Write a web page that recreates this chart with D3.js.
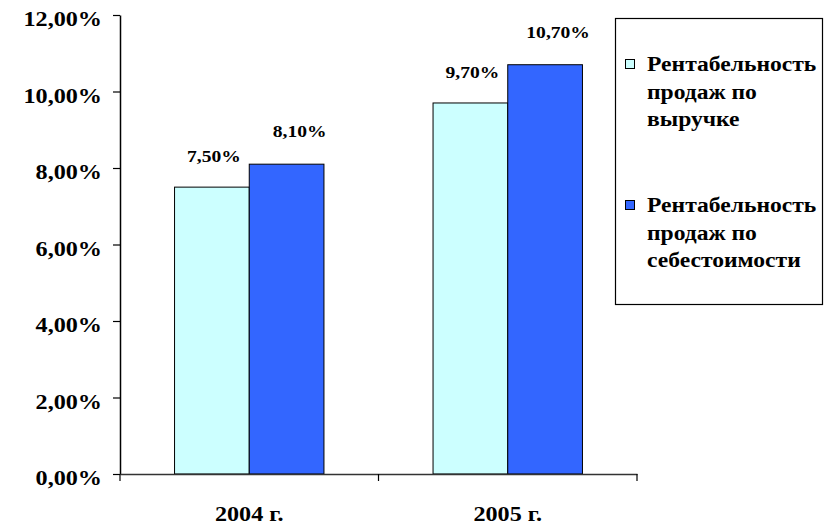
<!DOCTYPE html>
<html><head><meta charset="utf-8">
<script src="https://cdn.jsdelivr.net/npm/d3@7"></script>
<style>
html,body{margin:0;padding:0;background:#fff;}
</style></head>
<body>
<svg id="chart" width="829" height="525"></svg>
<script>
const categories = ["2004 г.", "2005 г."];
const seriesNames = [
  ["Рентабельность", "продаж по", "выручке"],
  ["Рентабельность", "продаж по", "себестоимости"]
];
const seriesRevenue = [7.5, 9.7];
const seriesCost = [8.1, 10.7];
const yTicks = [0, 2, 4, 6, 8, 10, 12];
const colors = ["#CCFFFF", "#3366FF"];

const values = [seriesRevenue, seriesCost];
const SX = 1.15; // horizontal stretch of text
const svg = d3.select("#chart");

const plot = {left: 120, right: 637, top: 15, bottom: 474};
const y = d3.scaleLinear().domain([0, 12]).range([plot.bottom, plot.top]);
const x0 = d3.scaleBand().domain(categories).range([plot.left, plot.right]).padding(0);
const groupW = x0.bandwidth() * 0.578;
const x1 = d3.scaleBand().domain([0, 1]).range([0, groupW]).padding(0);

function txt(g, x, yy, s, size, anchor) {
  const t = g.append("text")
    .attr("x", x).attr("y", yy)
    .attr("text-anchor", anchor)
    .attr("font-family", "Liberation Serif")
    .attr("font-weight", "bold")
    .attr("font-size", size)
    .attr("fill", "#000")
    .text(s);
  const len = t.node().getComputedTextLength();
  t.attr("textLength", len * SX).attr("lengthAdjust", "spacingAndGlyphs");
  return t;
}

// bars
categories.forEach((c, ci) => {
  const gx = x0(c) + (x0.bandwidth() - groupW) / 2;
  [0, 1].forEach(si => {
    svg.append("rect")
      .attr("x", gx + x1(si))
      .attr("y", y(values[si][ci]))
      .attr("width", x1.bandwidth())
      .attr("height", y(0) - y(values[si][ci]))
      .attr("fill", colors[si])
      .attr("stroke", "#000")
      .attr("stroke-width", 1);
  });
});

// y axis
const fmt = v => d3.format(".2f")(v).replace(".", ",") + "%";
const yAxis = svg.append("g").attr("transform", `translate(${plot.left},0)`)
  .call(d3.axisLeft(y).tickValues(yTicks).tickSize(7).tickSizeOuter(0).tickFormat(""));
yAxis.select(".domain").attr("stroke", "#000").attr("stroke-width", 1.5);
yAxis.selectAll(".tick line").attr("stroke", "#000").attr("stroke-width", 1.2);
yTicks.forEach(t => txt(svg, 102, y(t) + 11, fmt(t), 21, "end"));

// x axis
const xAxis = svg.append("g").attr("transform", `translate(0,${plot.bottom})`)
  .call(d3.axisBottom(x0).tickSize(0).tickSizeOuter(0).tickFormat(""));
xAxis.select(".domain").attr("stroke", "#333").attr("stroke-width", 1.5);
xAxis.selectAll(".tick line").remove();
const bounds = [plot.left, ...categories.map(c => x0(c) + x0.bandwidth())];
bounds.forEach(b => svg.append("line")
  .attr("x1", b).attr("x2", b).attr("y1", plot.bottom).attr("y2", plot.bottom + 7)
  .attr("stroke", "#000").attr("stroke-width", 1.2));
categories.forEach(c => txt(svg, x0(c) + x0.bandwidth() / 2, 521, c, 21, "middle"));

// data labels
const labelDx = [2, 13], labelDy = [-25, -27];
categories.forEach((c, ci) => {
  const gx = x0(c) + (x0.bandwidth() - groupW) / 2;
  [0, 1].forEach(si => {
    const v = values[si][ci];
    txt(svg, gx + x1(si) + x1.bandwidth() / 2 + labelDx[si], y(v) + labelDy[si], fmt(v), 17, "middle");
  });
});

// legend
svg.append("rect").attr("x", 615.5).attr("y", 18.5).attr("width", 207).attr("height", 286)
  .attr("fill", "#fff").attr("stroke", "#000").attr("stroke-width", 1.2);
const legendBase = [71, 212];
seriesNames.forEach((lines, si) => {
  svg.append("rect").attr("x", 625.5).attr("y", legendBase[si] - 11.5).attr("width", 9).attr("height", 9)
    .attr("fill", colors[si]).attr("stroke", "#000").attr("stroke-width", 1);
  lines.forEach((l, li) => txt(svg, 647, legendBase[si] + li * 27.5, l, 20.5, "start"));
});
</script>
</body></html>
